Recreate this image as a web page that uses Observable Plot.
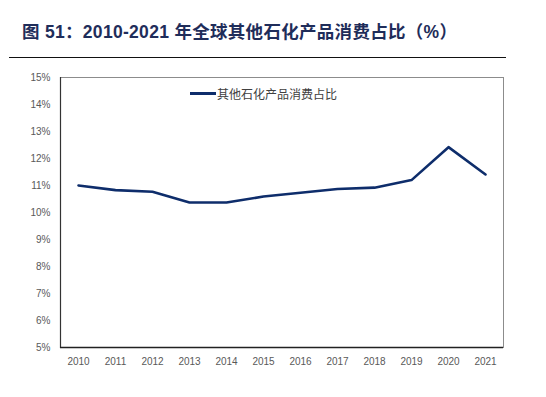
<!DOCTYPE html>
<html><head><meta charset="utf-8">
<script src="https://cdn.jsdelivr.net/npm/d3@7"></script>
<script src="https://cdn.jsdelivr.net/npm/@observablehq/plot@0.6"></script>
<style>
body{margin:0;background:#fff;width:546px;height:397px;overflow:hidden;position:relative;font-family:"Liberation Sans",Arial,sans-serif;}
#title{position:absolute;left:22px;top:18px;font-size:17.5px;font-weight:bold;color:#1f2d5a;font-family:"Liberation Sans","Noto Sans CJK SC",sans-serif;white-space:nowrap;letter-spacing:0.3px}
#rule{position:absolute;left:9px;top:57px;width:497px;height:0;border-top:1.3px solid #111;}
#chart{position:absolute;left:0;top:60px;}
#legend{position:absolute;left:190px;top:85px;font-size:12px;color:#404040;font-family:"Noto Sans CJK SC",sans-serif;display:flex;align-items:center;}
#legend span.sw{display:inline-block;width:26px;height:3px;background:#0e2d6b;margin-right:1px;}
</style></head>
<body>
<div id="title">图 51：2010-2021 年全球其他石化产品消费占比（%）</div>
<div id="rule"></div>
<div id="chart"></div>
<div id="legend"><span class="sw"></span>其他石化产品消费占比</div>
<script>
const years = ["2010","2011","2012","2013","2014","2015","2016","2017","2018","2019","2020","2021"];
const share = [11.0, 10.83, 10.77, 10.37, 10.37, 10.59, 10.73, 10.87, 10.92, 11.2, 12.42, 11.41];
const yTicks = [5,6,7,8,9,10,11,12,13,14,15];
const seriesName = "其他石化产品消费占比";

const data = years.map((y,i)=>({year:y, value:share[i], series:seriesName}));

const chart = Plot.plot({
  width: 546,
  height: 337,
  marginTop: 17,
  marginBottom: 50,
  marginLeft: 60,
  marginRight: 43,
  style: {fontFamily: "Liberation Sans, Arial, sans-serif", fontSize: "10px", color: "#595959", background: "#fff"},
  x: {type: "point", domain: years, padding: 0.42, label: null, tickSize: 0, tickPadding: 10},
  y: {domain: [5,15], ticks: yTicks, tickFormat: d => d + "%", label: null, tickSize: 0, tickPadding: 10},
  marks: [
    Plot.frame({stroke: "#8c8c8c", strokeWidth: 1}),
    Plot.frame({anchor: "left", stroke: "#333", strokeWidth: 1.2}),
    Plot.axisY({ticks: yTicks, tickFormat: d => d + "%", tickSize: 0, tickPadding: 10, label: null, fill: "#595959"}),
    Plot.axisX({tickSize: 0, tickPadding: 10, label: null, fill: "#595959"}),
    Plot.ruleY([5], {stroke: "#222", strokeWidth: 1.3}),
    Plot.line(data, {x: "year", y: "value", stroke: "#0e2d6b", strokeWidth: 2.6, curve: "linear"})
  ]
});
document.getElementById("chart").appendChild(chart);
</script>
</body></html>
